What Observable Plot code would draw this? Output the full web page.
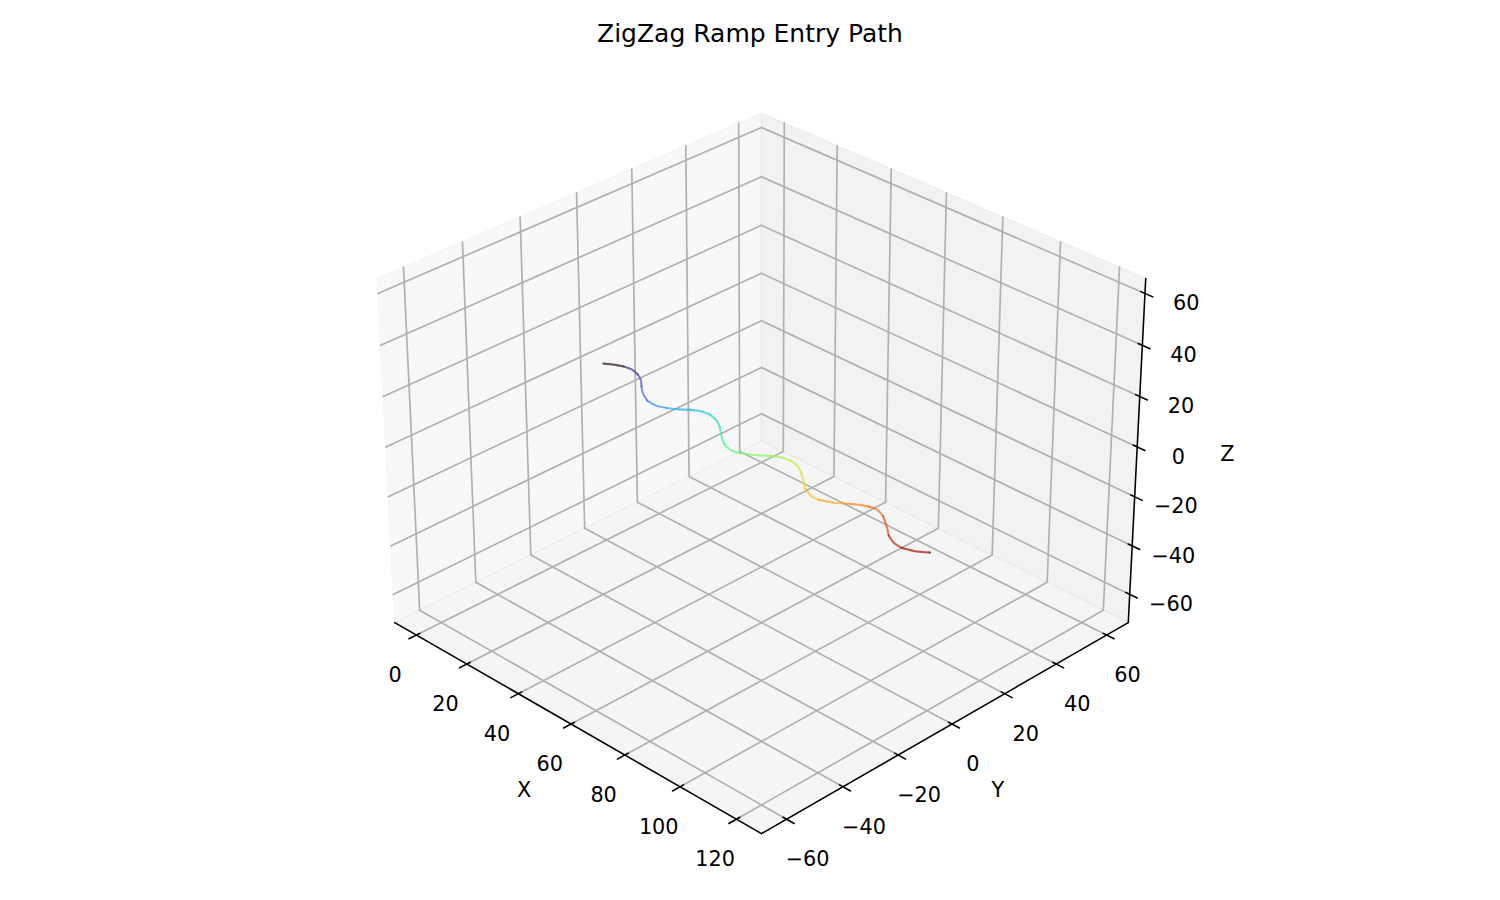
<!DOCTYPE html><html><head><meta charset="utf-8">
<script src="https://cdn.jsdelivr.net/npm/d3@7"></script>
<script src="https://cdn.jsdelivr.net/npm/@observablehq/plot@0.6"></script>
<style>body{margin:0;background:#fff}
#title{height:50px;box-sizing:border-box;padding-top:18px;text-align:center;font:25px/32px "DejaVu Sans";color:#000}
svg{display:block}</style></head><body>
<div id="title">ZigZag Ramp Entry Path</div>
<div id="chart"></div>
<script>
const pathX=[0.0,2.2,4.6,7.3,10.0,12.5,15.1,18.0,21.2,24.4,27.0,29.5,32.0,34.6,37.2,40.3,43.2,46.4,49.7,52.9,55.8,58.7,61.8,64.0,66.8,69.6,72.5,75.7,78.8,81.9,84.7,87.4,90.1,92.7,95.3,97.7,100.8,104.3,107.9,111.0,114.1,116.8,120.0];
const pathY=[0.2,2.0,3.4,3.9,3.4,2.1,-0.1,-2.3,-3.8,-3.9,-2.7,-0.9,1.6,3.3,3.8,3.0,1.4,-1.2,-3.5,-4.3,-3.5,-1.5,1.5,3.0,3.8,3.4,1.9,-0.5,-2.9,-4.1,-4.0,-2.5,-0.4,1.8,3.4,3.9,2.9,0.4,-2.5,-3.9,-4.1,-2.8,-0.3];
const pathZ=[1.7,1.5,1.3,1.1,0.8,0.6,0.4,0.2,-0.1,-0.3,-0.5,-0.7,-1.0,-1.2,-1.4,-1.6,-1.9,-2.1,-2.4,-2.7,-2.9,-3.1,-3.4,-3.6,-3.8,-4.0,-4.3,-4.5,-4.8,-5.0,-5.2,-5.5,-5.7,-5.9,-6.1,-6.3,-6.6,-6.8,-7.1,-7.4,-7.6,-7.9,-8.1];
const xTicks=[0,20,40,60,80,100,120];
const yTicks=[-60,-40,-20,0,20,40,60];
const zTicks=[-60,-40,-20,0,20,40,60];
const xLim=[-6,126], yLim=[-66,66], zLim=[-69,63];

const pad=l=>(l[1]-l[0])/48;
const [x0,x1]=[xLim[0]-pad(xLim),xLim[1]+pad(xLim)];
const [y0,y1]=[yLim[0]-pad(yLim),yLim[1]+pad(yLim)];
const [z0,z1]=[zLim[0]-pad(zLim),zLim[1]+pad(zLim)];

// matplotlib-style perspective camera: elev 30, azim -45, dist 10, box 4:4:3
const B=[1.1905,1.1905,0.8929];
const el=30*Math.PI/180, az=-45*Math.PI/180;
const W=[Math.cos(el)*Math.cos(az),Math.cos(el)*Math.sin(az),Math.sin(el)];
const U=[Math.SQRT1_2,Math.SQRT1_2,0];
const V=[W[1]*U[2]-W[2]*U[1],W[2]*U[0]-W[0]*U[2],W[0]*U[1]-W[1]*U[0]];
const dot=(a,b)=>a[0]*b[0]+a[1]*b[1]+a[2]*b[2];
function project([X,Y,Z]){
  const p=[(X-(xLim[0]+xLim[1])/2)/(xLim[1]-xLim[0])*B[0],
           (Y-(yLim[0]+yLim[1])/2)/(yLim[1]-yLim[0])*B[1],
           (Z-(zLim[0]+zLim[1])/2)/(zLim[1]-zLim[0])*B[2]];
  const d=10-dot(p,W);
  return [dot(p,U)/d,dot(p,V)/d];
}
const px=d=>project(d)[0], py=d=>project(d)[1];
const lineOf=(pts,o)=>Plot.line(pts,{x:px,y:py,...o});

const panes=[
  {pts:[[x0,y0,z0],[x0,y1,z0],[x0,y1,z1],[x0,y0,z1],[x0,y0,z0]],c:"rgb(242,242,242)"},
  {pts:[[x0,y1,z0],[x1,y1,z0],[x1,y1,z1],[x0,y1,z1],[x0,y1,z0]],c:"rgb(230,230,230)"},
  {pts:[[x0,y0,z0],[x1,y0,z0],[x1,y1,z0],[x0,y1,z0],[x0,y0,z0]],c:"rgb(236,236,236)"}
];
const grid=[
  ...xTicks.map(t=>[[t,y0,z0],[t,y1,z0],[t,y1,z1]]),
  ...yTicks.map(t=>[[x1,t,z0],[x0,t,z0],[x0,t,z1]]),
  ...zTicks.map(t=>[[x0,y0,t],[x0,y1,t],[x1,y1,t]])
];
const axes=[[[x0,y0,z0],[x1,y0,z0]],[[x1,y0,z0],[x1,y1,z0]],[[x1,y1,z0],[x1,y1,z1]]];
const tickSegs=[
  ...xTicks.map(t=>[[t,y0+1.2,z0],[t,y0-2.6,z0]]),
  ...yTicks.map(t=>[[x1-1.2,t,z0],[x1+2.6,t,z0]]),
  ...zTicks.map(t=>[[x1-1.4,y1,t],[x1+2.6,y1,t]])
];
const fmt=t=>String(t).replace("-","\u2212");
const tickText=(ticks,pos,dx,dy)=>Plot.text(ticks,{x:t=>px(pos(t)),y:t=>py(pos(t)),text:fmt,dx,dy,fontSize:20.8,fill:"#000",textAnchor:"middle"});
const labelText=(s,p,dx,dy)=>Plot.text([s],{x:()=>px(p),y:()=>py(p),text:d=>d,dx,dy,fontSize:20.8,fill:"#000",textAnchor:"middle"});

const path=pathX.map((x,i)=>({x,y:pathY[i],z:pathZ[i],band:pathX[Math.floor(i/2)*2]}));

const chart=Plot.plot({
  width:1500,height:850,margin:0,
  style:{fontFamily:"'DejaVu Sans'",background:"#fff"},
  x:{type:"linear",domain:[-0.1778,0.17266],range:[0,1500],axis:null},
  y:{type:"linear",domain:[0.09461,-0.10445],range:[0,850],axis:null},
  color:{type:"linear",scheme:"turbo",domain:[0,120]},
  marks:[
    ...panes.map(p=>lineOf(p.pts,{fill:p.c,fillOpacity:0.5,stroke:p.c,strokeOpacity:0.5,strokeWidth:1.6})),
    ...grid.map(g=>lineOf(g,{stroke:"#b0b0b0",strokeWidth:1.67})),
    ...axes.map(a=>lineOf(a,{stroke:"#000",strokeWidth:1.56})),
    ...tickSegs.map(a=>lineOf(a,{stroke:"#000",strokeWidth:1.56})),
    Plot.line(path,{x:d=>px([d.x,d.y,d.z]),y:d=>py([d.x,d.y,d.z]),z:null,stroke:d=>d.band,strokeOpacity:0.7,strokeWidth:2.08,curve:"catmull-rom"}),
    tickText(xTicks,t=>[t,y0,z0],-21.3,40.3),
    tickText(yTicks,t=>[x1,t,z0],21,40.3),
    tickText(zTicks,t=>[x1,y1,t],41.2,10),
    labelText("X",[60,y0,z0],-47,66.5),
    labelText("Y",[x1,0,z0],46,66.5),
    labelText("Z",[x1,y1,-2.5],90.6,1)
  ]
});
document.getElementById("chart").append(chart);
</script></body></html>
